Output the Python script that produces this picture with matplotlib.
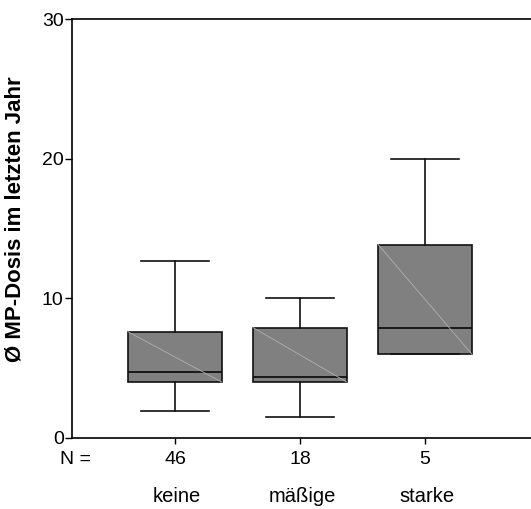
import matplotlib.pyplot as plt
from matplotlib.transforms import blended_transform_factory

plt.rcParams['font.family'] = ['Liberation Sans', 'DejaVu Sans']

# Dose groups and their box statistics
categories = ["keine", "mäßige", "starke"]
counts = [46, 18, 5]
whisker_low = [1.9, 1.5, 6.0]
q1 = [4.0, 4.0, 6.0]
median = [4.75, 4.4, 7.9]
q3 = [7.6, 7.9, 13.85]
whisker_high = [12.7, 10.0, 20.0]

positions = [1, 2, 3]
box_width = 0.75


def draw_boxes():
    fig = plt.figure(figsize=(5.31, 5.09), dpi=100)
    ax = fig.add_axes([72 / 531, (509 - 438) / 509, 1 - 72 / 531, (438 - 19) / 509])

    stats = []
    for i in range(len(categories)):
        stats.append({
            'whislo': whisker_low[i], 'q1': q1[i], 'med': median[i],
            'q3': q3[i], 'whishi': whisker_high[i], 'fliers': [],
        })

    ax.bxp(stats, positions=positions, widths=box_width, patch_artist=True,
           showfliers=False,
           boxprops=dict(facecolor='#808080', edgecolor='#111111', linewidth=1.2),
           medianprops=dict(color='#111111', linewidth=1.3),
           whiskerprops=dict(color='#111111', linewidth=1.2),
           capprops=dict(color='#111111', linewidth=1.2),
           capwidths=0.54)

    # thin light diagonal across each box (SPSS style)
    for i, p in enumerate(positions):
        ax.plot([p - box_width / 2, p + box_width / 2], [q3[i], q1[i]],
                color='#b0b0b0', linewidth=0.6, zorder=3)

    ax.set_xlim(0.176, 3.848)
    ax.set_ylim(0, 30)
    ax.set_yticks([0, 10, 20, 30])
    ax.tick_params(axis='y', labelsize=14, length=5, width=1, pad=1)
    ax.tick_params(axis='x', length=4, width=1, labelbottom=False)
    ax.set_xticks(positions)

    for side in ['left', 'bottom', 'top']:
        ax.spines[side].set_linewidth(1.2)
    ax.spines['right'].set_visible(False)

    ax.set_ylabel("Ø MP-Dosis im letzten Jahr", fontsize=16, fontweight='bold')
    ax.yaxis.set_label_coords(-46 / 459, 0.523)

    trans = blended_transform_factory(ax.transData, ax.transAxes)
    ax.annotate("N =", xy=(0.2, 0), xycoords=trans, xytext=(0, -21),
                textcoords='offset pixels', ha='center', va='center', fontsize=14)
    for i, p in enumerate(positions):
        ax.annotate(str(counts[i]), xy=(p, 0), xycoords=trans, xytext=(0, -21),
                    textcoords='offset pixels', ha='center', va='center', fontsize=14)
        ax.annotate(categories[i], xy=(p, 0), xycoords=trans, xytext=(2, -58),
                    textcoords='offset pixels', ha='center', va='center', fontsize=14.5)

    fig.savefig("out.png")


if __name__ == '__main__':
    draw_boxes()
